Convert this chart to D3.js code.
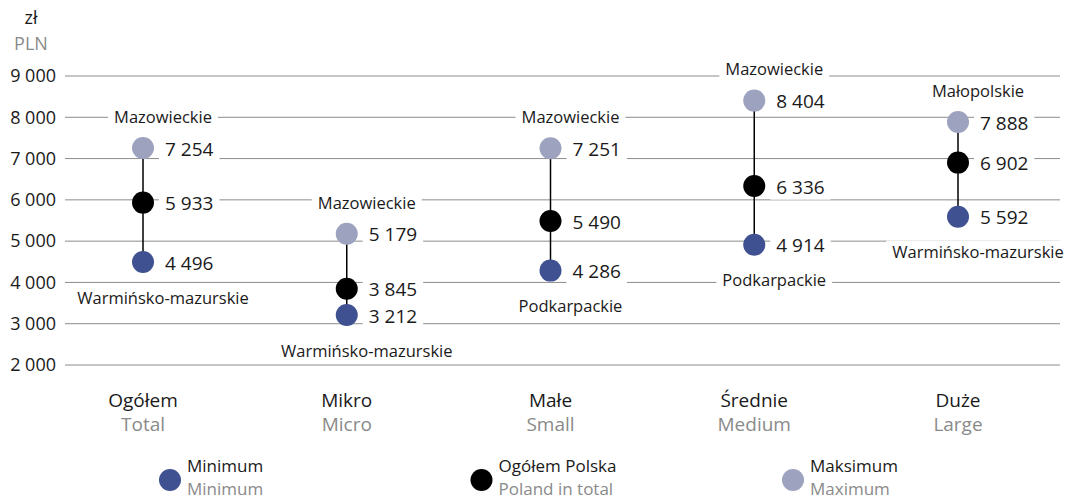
<!DOCTYPE html>
<html>
<head>
<meta charset="utf-8">
<script src="https://cdn.jsdelivr.net/npm/d3@7"></script>
<style>
  body { margin: 0; background: #fff; }
  svg text { font-family: "Open Sans", "Noto Sans", sans-serif; }
</style>
</head>
<body>
<svg id="chart" width="1066" height="499"></svg>
<script>
// dane
var categories = ["Ogółem", "Mikro", "Małe", "Średnie", "Duże"];
var categoriesEn = ["Total", "Micro", "Small", "Medium", "Large"];
var minValues = [4496, 3212, 4286, 4914, 5592];
var totalValues = [5933, 3845, 5490, 6336, 6902];
var maxValues = [7254, 5179, 7251, 8404, 7888];
var minRegions = ["Warmińsko-mazurskie", "Warmińsko-mazurskie", "Podkarpackie", "Podkarpackie", "Warmińsko-mazurskie"];
var maxRegions = ["Mazowieckie", "Mazowieckie", "Mazowieckie", "Mazowieckie", "Małopolskie"];
var yTicks = [2000, 3000, 4000, 5000, 6000, 7000, 8000, 9000];
var legendPl = ["Minimum", "Ogółem Polska", "Maksimum"];
var legendEn = ["Minimum", "Poland in total", "Maximum"];

var colMin = "#3f5191", colTot = "#000000", colMax = "#9da2bf";
var legendColors = [colMin, colTot, colMax];

var svg = d3.select("#chart");
var fmt = function(v) { return d3.format(",")(v).replace(/,/g, " "); };

var x = d3.scalePoint().domain(categories).range([143, 958]);
var y = d3.scaleLinear().domain([2000, 9000]).range([365, 76]);

// siatka
var grid = svg.append("g");
grid.selectAll("line").data(yTicks).enter().append("line")
  .attr("x1", 65).attr("x2", 1060)
  .attr("y1", function(d) { return y(d); })
  .attr("y2", function(d) { return y(d); })
  .attr("stroke", "#8c8c8c").attr("stroke-width", 1);

// etykiety osi Y
svg.append("g").selectAll("text").data(yTicks).enter().append("text")
  .attr("x", 56).attr("y", function(d) { return y(d); })
  .attr("dy", "0.35em").attr("text-anchor", "end")
  .attr("font-size", 18).attr("fill", "#1a1a1a")
  .text(fmt);

svg.append("text").attr("x", 31).attr("y", 24).attr("text-anchor", "middle")
  .attr("font-size", 18).attr("fill", "#1a1a1a").text("zł");
svg.append("text").attr("x", 31).attr("y", 50).attr("text-anchor", "middle")
  .attr("font-size", 18).attr("fill", "#8a8a8a").text("PLN");

// tekst z białym tłem
function label(g, tx, ty, txt, size, anchor) {
  var grp = g.append("g");
  var rect = grp.append("rect").attr("fill", "#fff");
  var t = grp.append("text").attr("x", tx).attr("y", ty).attr("dy", "0.35em")
    .attr("text-anchor", anchor).attr("font-size", size).attr("fill", "#1a1a1a").text(txt);
  var b = t.node().getBBox();
  rect.attr("x", b.x - 6).attr("y", b.y).attr("width", b.width + 12).attr("height", b.height);
}

var marks = svg.append("g");
categories.forEach(function(c, i) {
  var cx = x(c);
  marks.append("line")
    .attr("x1", cx).attr("x2", cx)
    .attr("y1", y(minValues[i])).attr("y2", y(maxValues[i]))
    .attr("stroke", "#000").attr("stroke-width", 1.5);

  label(marks, cx + 20, y(maxValues[i]) - 31, maxRegions[i], 16.5, "middle");
  label(marks, cx + 20, y(minValues[i]) + 36, minRegions[i], 16.5, "middle");

  [[minValues[i], colMin], [totalValues[i], colTot], [maxValues[i], colMax]].forEach(function(p) {
    marks.append("circle").attr("cx", cx).attr("cy", y(p[0])).attr("r", 11).attr("fill", p[1]);
    label(marks, cx + 22, y(p[0]) + 1, fmt(p[0]), 19, "start");
  });
});

// kategorie
var cat = svg.append("g");
categories.forEach(function(c, i) {
  cat.append("text").attr("x", x(c)).attr("y", 407).attr("text-anchor", "middle")
    .attr("font-size", 19).attr("fill", "#1a1a1a").text(c);
  cat.append("text").attr("x", x(c)).attr("y", 431).attr("text-anchor", "middle")
    .attr("font-size", 19).attr("fill", "#8a8a8a").text(categoriesEn[i]);
});

// legenda
var lx = d3.scalePoint().domain(legendPl).range([170, 793]);
var leg = svg.append("g");
legendPl.forEach(function(d, i) {
  leg.append("circle").attr("cx", lx(d)).attr("cy", 480).attr("r", 11).attr("fill", legendColors[i]);
  leg.append("text").attr("x", lx(d) + 17).attr("y", 472).attr("font-size", 17)
    .attr("fill", "#1a1a1a").text(d);
  leg.append("text").attr("x", lx(d) + 17).attr("y", 495).attr("font-size", 17)
    .attr("fill", "#8a8a8a").text(legendEn[i]);
});
</script>
</body>
</html>
